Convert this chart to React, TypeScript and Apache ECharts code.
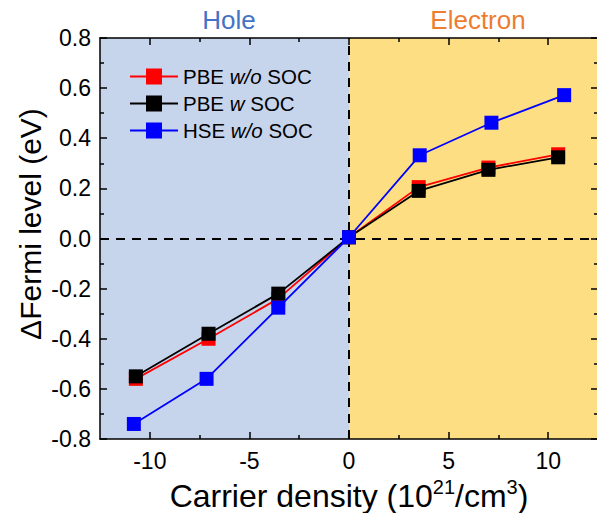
import React, { useEffect, useRef } from "react";
import * as echarts from "echarts";

// ---- data ----
const seriesNames = ["PBE w/o SOC", "PBE w SOC", "HSE w/o SOC"];
const seriesColors = ["#ff0000", "#000000", "#0000ff"];

const pbeNoSocX = [-10.7, -7.05, -3.55, 0, 3.5, 7.0, 10.5];
const pbeNoSocY = [-0.56, -0.4, -0.24, 0.005, 0.205, 0.283, 0.336];

const pbeSocX = [-10.7, -7.05, -3.55, 0, 3.5, 7.0, 10.5];
const pbeSocY = [-0.55, -0.38, -0.22, 0.005, 0.19, 0.274, 0.324];

const hseNoSocX = [-10.8, -7.15, -3.55, 0, 3.55, 7.15, 10.8];
const hseNoSocY = [-0.74, -0.56, -0.276, 0.005, 0.332, 0.462, 0.572];

const xMajorTicks = [-10, -5, 0, 5, 10];
const xMinorTicks = [-7.5, -2.5, 2.5, 7.5];
const regionLabels = ["Hole", "Electron"];
const regionBounds = [
  [-12.5, 0],
  [0, 12.5],
];

const FONT = 'Arial, "Liberation Sans", sans-serif';

export default function App() {
  const ref = useRef<HTMLDivElement>(null);

  useEffect(() => {
    const chart = echarts.init(ref.current!, null, { renderer: "svg" });
    const xs = [pbeNoSocX, pbeSocX, hseNoSocX];
    const ys = [pbeNoSocY, pbeSocY, hseNoSocY];

    const axisLine = { show: true, onZero: false, lineStyle: { color: "#000", width: 1.5 } };
    const noLine = { show: false, onZero: false };

    const baseX = {
      type: "value",
      min: -12.5,
      max: 12.5,
      gridIndex: 0,
      z: 4,
      splitLine: { show: false },
    };
    const baseY = {
      type: "value",
      min: -0.8,
      max: 0.8,
      interval: 0.2,
      gridIndex: 0,
      z: 4,
      splitLine: { show: false },
      axisLine,
      axisTick: { show: true, inside: true, length: 7, lineStyle: { color: "#000", width: 1.5 } },
      minorTick: { show: true, splitNumber: 2, length: 4, lineStyle: { color: "#000", width: 1.5 } },
    };

    const option: any = {
      animation: false,
      backgroundColor: "#ffffff",
      textStyle: { fontFamily: FONT },
      grid: {
        left: 100,
        top: 38,
        width: 498,
        height: 401,
        containLabel: false,
        outerBoundsMode: "none",
      },
      legend: {
        data: seriesNames,
        orient: "vertical",
        left: 129,
        top: 66,
        padding: 0,
        itemWidth: 48,
        itemHeight: 20,
        itemGap: 6,
        formatter: (name: string) => {
          const p = name.split(" ");
          return `{n|${p[0]} }{i|${p[1]}}{n| ${p[2]}}`;
        },
        textStyle: {
          fontFamily: FONT,
          fontSize: 20,
          color: "#000",
          rich: {
            n: { fontFamily: FONT, fontSize: 20.5, color: "#000" },
            i: { fontFamily: FONT, fontSize: 20.5, color: "#000", fontStyle: "italic" },
          },
        },
      },
      xAxis: [
        {
          ...baseX,
          position: "bottom",
          axisLine,
          axisTick: {
            show: true,
            inside: true,
            length: 7,
            customValues: xMajorTicks,
            lineStyle: { color: "#000", width: 1.5 },
          },
          axisLabel: {
            show: true,
            customValues: xMajorTicks,
            fontSize: 23,
            fontFamily: FONT,
            color: "#000",
            margin: 10,
          },
          name: "{t|Carrier density (10}{s|21}{t|/cm}{s|3}{t|)}",
          nameLocation: "middle",
          nameGap: 32,
          nameTextStyle: {
            rich: {
              t: { fontSize: 32, fontFamily: FONT, color: "#000", lineHeight: 38 },
              s: { fontSize: 20, fontFamily: FONT, color: "#000", lineHeight: 22, verticalAlign: "top" },
            },
          },
        },
        {
          ...baseX,
          position: "top",
          axisLine,
          axisTick: {
            show: true,
            inside: true,
            length: 7,
            customValues: xMajorTicks,
            lineStyle: { color: "#000", width: 1.5 },
          },
          axisLabel: { show: false },
        },
        {
          ...baseX,
          position: "bottom",
          axisLine: noLine,
          axisTick: {
            show: true,
            inside: true,
            length: 4,
            customValues: xMinorTicks,
            lineStyle: { color: "#000", width: 1.5 },
          },
          axisLabel: { show: false },
        },
        {
          ...baseX,
          position: "top",
          axisLine: noLine,
          axisTick: {
            show: true,
            inside: true,
            length: 4,
            customValues: xMinorTicks,
            lineStyle: { color: "#000", width: 1.5 },
          },
          axisLabel: { show: false },
        },
      ],
      yAxis: [
        {
          ...baseY,
          position: "left",
          axisLabel: {
            show: true,
            fontSize: 23,
            fontFamily: FONT,
            color: "#000",
            margin: 9,
            formatter: (v: number) => (Math.abs(v) < 1e-9 ? "0.0" : v.toFixed(1)),
          },
        },
        {
          ...baseY,
          position: "right",
          axisLabel: { show: false },
        },
      ],
      graphic: [
        {
          type: "text",
          x: 30,
          y: 224,
          rotation: Math.PI / 2,
          style: {
            text: "\u0394Fermi level (eV)",
            fontSize: 30,
            fontFamily: FONT,
            fill: "#000",
            textAlign: "center",
            textVerticalAlign: "middle",
          },
        },
        {
          type: "text",
          x: 229,
          y: 20,
          style: {
            text: regionLabels[0],
            fontSize: 26,
            fontFamily: FONT,
            fill: "#4472c4",
            textAlign: "center",
            textVerticalAlign: "middle",
          },
        },
        {
          type: "text",
          x: 478,
          y: 20,
          style: {
            text: regionLabels[1],
            fontSize: 26,
            fontFamily: FONT,
            fill: "#ed7d31",
            textAlign: "center",
            textVerticalAlign: "middle",
          },
        },
      ],
      series: [
        {
          name: "regions",
          type: "line",
          data: [],
          silent: true,
          z: 0,
          markArea: {
            silent: true,
            z: 0,
            data: [
              [
                { xAxis: regionBounds[0][0], itemStyle: { color: "#c6d4ec" } },
                { xAxis: regionBounds[0][1] },
              ],
              [
                { xAxis: regionBounds[1][0], itemStyle: { color: "#fede82" } },
                { xAxis: regionBounds[1][1] },
              ],
            ],
          },
          markLine: {
            silent: true,
            z: 1,
            symbol: "none",
            label: { show: false },
            lineStyle: { color: "#000", type: [9, 7], width: 2 },
            data: [{ xAxis: 0 }, { yAxis: 0 }],
          },
        },
        ...seriesNames.map((name, i) => ({
          name,
          type: "line",
          z: 2 + i,
          symbol: "rect",
          symbolSize: 14,
          color: seriesColors[i],
          itemStyle: { color: seriesColors[i] },
          lineStyle: { color: seriesColors[i], width: 1.8 },
          data: xs[i].map((x, j) => [x, ys[i][j]]),
        })),
      ],
    };

    chart.setOption(option);
    return () => chart.dispose();
  }, []);

  return (
    <div
      ref={ref}
      style={{ position: "fixed", left: 0, top: 0, width: 597, height: 513, background: "#fff" }}
    />
  );
}
